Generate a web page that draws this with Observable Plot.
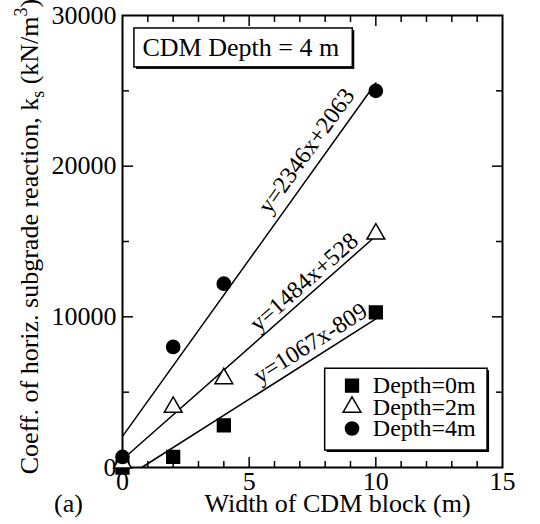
<!DOCTYPE html>
<html><head><meta charset="utf-8">
<script src="https://cdn.jsdelivr.net/npm/d3@7"></script>
<script src="https://cdn.jsdelivr.net/npm/@observablehq/plot@0.6"></script>
<style>
html,body{margin:0;padding:0;background:#fff;}
#chart svg{display:block;}
#chart svg text{font-family:"Liberation Serif",serif !important;}
</style></head><body><div id="chart"></div>
<script>
// ---- data ----
const widths = [0, 2, 4, 10];
const depth0 = [0, 700, 2800, 10300];
const depth2 = [300, 4000, 5900, 15500];
const depth4 = [700, 8000, 12200, 25000];
const seriesNames = ["Depth=0m", "Depth=2m", "Depth=4m"];
const slopes = [1067, 1484, 2346];
const intercepts = [-809, 528, 2063];
const fitLabels = ["y=1067x-809", "y=1484x+528", "y=2346x+2063"];
const fitXmax = 10;
const xTicks = [0, 5, 10, 15];
const yTicks = [0, 10000, 20000, 30000];
const boxTitle = "CDM Depth = 4 m";
const panelLabel = "(a)";
const xTitle = "Width of CDM block (m)";
const yTitleParts = [
  {t: "Coeff. of horiz. subgrade reaction, k"},
  {t: "s", kind: "sub"},
  {t: " (kN/m"},
  {t: "3", kind: "sup"},
  {t: ")"}
];

// ---- layout ----
const W = 540, H = 524;
const mL = 122, mR = 38, mT = 15, mB = 57;
const xDom = [0, 15], yDom = [0, 30000];
const pxX = (W - mL - mR) / (xDom[1] - xDom[0]);
const pxY = (H - mT - mB) / (yDom[1] - yDom[0]);
const font = "Liberation Serif, serif";

const seriesVals = [depth0, depth2, depth4];
const symbols = ["square", "triangle", "circle"];
const fills = ["black", "white", "black"];
const radii = [7.2, 6.6, 6.6];

const fitLines = slopes.map((m, i) => {
  const x0 = Math.max(0, -intercepts[i] / m);
  return [{x: x0, y: m * x0 + intercepts[i], s: i}, {x: fitXmax, y: m * fitXmax + intercepts[i], s: i}];
}).flat();

// label placement along each fit (x along line, perpendicular offset in px)
const labelX = [7.72, 7.5, 7.8];
const labelOff = [14.5, 13, 17];

const fitTextMarks = slopes.map((m, i) => {
  const th = Math.atan(m * pxY / pxX);
  const d = labelOff[i];
  return Plot.text([{x: labelX[i], y: m * labelX[i] + intercepts[i], t: fitLabels[i]}], {
    x: "x", y: "y", text: "t", rotate: -th * 180 / Math.PI,
    dx: -d * Math.sin(th), dy: -d * Math.cos(th),
    lineAnchor: "middle", textAnchor: "middle", fontSize: 24, fontFamily: font, fill: "black"
  });
});

const pointMarks = seriesVals.map((vals, i) =>
  Plot.dot(vals.map((v, j) => ({x: widths[j], y: v})), {
    x: "x", y: "y", symbol: symbols[i], fill: fills[i], r: radii[i],
    stroke: "black", strokeWidth: 1.5
  }));

// legend (data-space box)
const legBox = {x1: 8.0, x2: 14.41, y1: 1126, y2: 6556};
const legSymX = 9.06, legTextX = 9.88, legTop = 5430, legStep = 1420;
const legRows = seriesNames.map((n, i) => ({x: legSymX, tx: legTextX, y: legTop - i * legStep, n}));
const legendSymbolMarks = legRows.map((row, i) =>
  Plot.dot([row], {x: "x", y: "y", symbol: symbols[i], fill: fills[i], r: radii[i], stroke: "black", strokeWidth: 1.5}));

const titleBox = {x1: 0.47, x2: 9.09, y1: 26556, y2: 29139};
const titleCenter = {x: 4.67, y: 27848};

const minorX = d3.range(1, 15).filter(v => v % 5);
const majorX = [5, 10];
const minorY = [5000, 15000, 25000];
const majorY = [10000, 20000];

const tickAxes = [];
for (const a of ["bottom", "top"]) {
  tickAxes.push(Plot.axisX({anchor: a, ticks: majorX, tickSize: -10, tickFormat: () => "", label: null, strokeWidth: 1.5}));
  tickAxes.push(Plot.axisX({anchor: a, ticks: minorX, tickSize: -6, tickFormat: () => "", label: null, strokeWidth: 1.5}));
}
for (const a of ["left", "right"]) {
  tickAxes.push(Plot.axisY({anchor: a, ticks: majorY, tickSize: -11, tickFormat: () => "", label: null, strokeWidth: 1.5}));
  tickAxes.push(Plot.axisY({anchor: a, ticks: minorY, tickSize: -7, tickFormat: () => "", label: null, strokeWidth: 1.5}));
}

const yTitleStr = yTitleParts.map(p => p.t).join("");

const chart = Plot.plot({
  width: W, height: H,
  marginLeft: mL, marginRight: mR, marginTop: mT, marginBottom: mB,
  x: {domain: xDom},
  y: {domain: yDom},
  style: {fontFamily: font, fontSize: "26px", color: "black", background: "white"},
  marks: [
    ...tickAxes,
    Plot.axisX({anchor: "bottom", ticks: xTicks, tickSize: 0, tickPadding: 4, tickFormat: d => String(d), label: null, fontSize: 26, fontFamily: font, fontVariant: "normal"}),
    Plot.axisY({anchor: "left", ticks: yTicks, tickSize: 0, tickPadding: 6, tickFormat: d => String(d), label: null, fontSize: 26, fontFamily: font, fontVariant: "normal"}),
    Plot.frame({stroke: "black", strokeWidth: 2}),
    Plot.line(fitLines, {x: "x", y: "y", z: "s", stroke: "black", strokeWidth: 1.5}),
    ...fitTextMarks,
    ...pointMarks,
    // title box
    Plot.rect([titleBox], {x1: "x1", x2: "x2", y1: "y1", y2: "y2", fill: "black", dx: 2, dy: 2}),
    Plot.rect([titleBox], {x1: "x1", x2: "x2", y1: "y1", y2: "y2", fill: "white", stroke: "black", strokeWidth: 1.5}),
    Plot.text([titleCenter], {x: "x", y: "y", text: () => boxTitle, fontSize: 26, fontFamily: font, lineAnchor: "middle", fill: "black"}),
    // legend
    Plot.rect([legBox], {x1: "x1", x2: "x2", y1: "y1", y2: "y2", fill: "black", dx: 2, dy: 2}),
    Plot.rect([legBox], {x1: "x1", x2: "x2", y1: "y1", y2: "y2", fill: "white", stroke: "black", strokeWidth: 1.5}),
    ...legendSymbolMarks,
    Plot.text(legRows, {x: "tx", y: "y", text: "n", textAnchor: "start", lineAnchor: "middle", fontSize: 24, fontFamily: font, fill: "black"}),
    // axis titles
    Plot.text([xTitle], {frameAnchor: "bottom", text: d => d, dx: 25, dy: 44, lineAnchor: "bottom", fontSize: 26, fontFamily: font, fill: "black"}),
    Plot.text([panelLabel], {frameAnchor: "bottom-left", text: d => d, dx: -54, dy: 44, lineAnchor: "bottom", textAnchor: "middle", fontSize: 26, fontFamily: font, fill: "black"}),
    Plot.text([yTitleStr], {frameAnchor: "left", text: d => d, rotate: -90, dx: -85, dy: -5, lineAnchor: "bottom", textAnchor: "middle", fontSize: 26, fontFamily: font, fill: "black"})
  ]
});

document.getElementById("chart").appendChild(chart);

// rebuild y title with subscript/superscript
d3.select(chart).selectAll("text").filter(function() { return this.textContent === yTitleStr; })
  .each(function() {
    const t = d3.select(this);
    t.text(null);
    let shift = 0;
    for (const p of yTitleParts) {
      const ts = t.append("tspan").text(p.t);
      let target = p.kind === "sub" ? 6 : p.kind === "sup" ? -11 : 0;
      if (target !== shift) { ts.attr("dy", target - shift); shift = target; }
      if (p.kind) ts.attr("font-size", 18);
    }
  });
</script>
</body></html>
